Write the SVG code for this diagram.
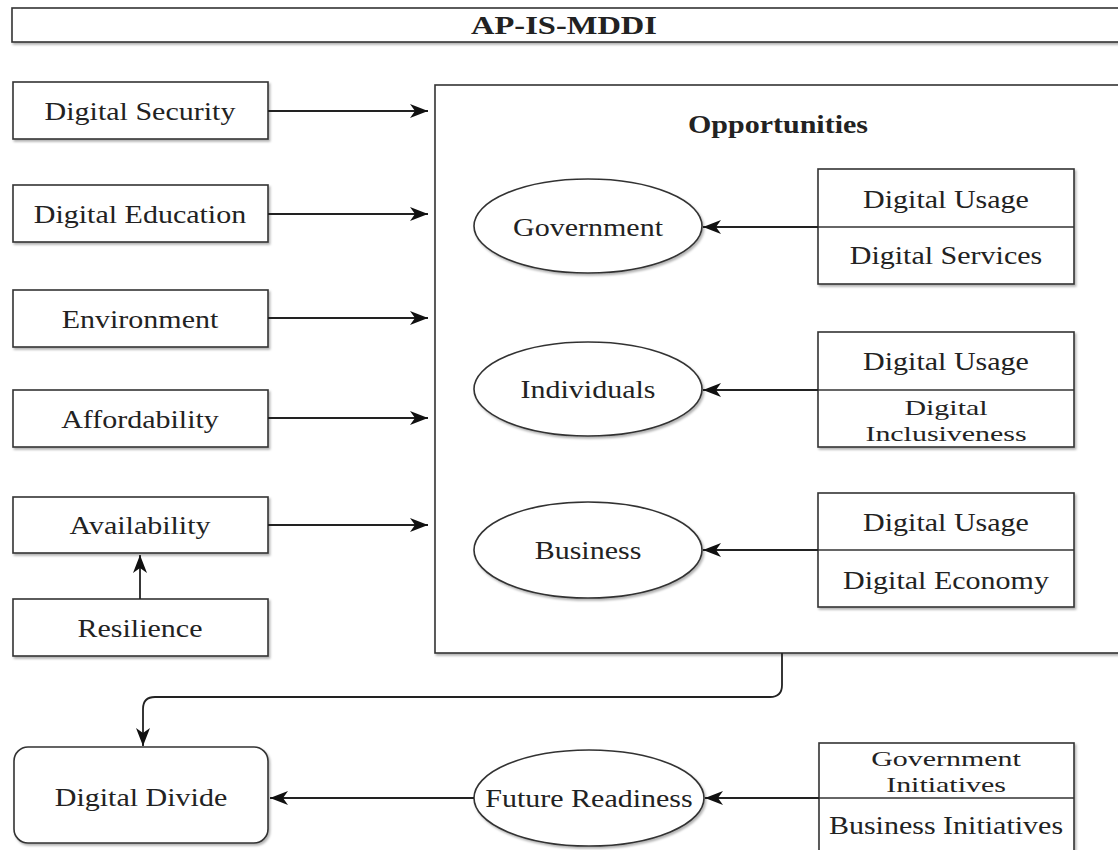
<svg xmlns="http://www.w3.org/2000/svg" width="1118" height="850" viewBox="0 0 1118 850">
  <style>
    .box { fill: #ffffff; stroke: #333333; stroke-width: 1.6; filter: url(#shadow); }
    .div { stroke: #333333; stroke-width: 1.6; fill: none; }
    .edge { fill: none; stroke: #222222; stroke-width: 1.8; }
    .arrow { marker-end: url(#head); }
    .t { font-family: "Liberation Serif", "Times New Roman", serif; font-size: 25px; text-anchor: middle; fill: #222222; }
    .b { font-weight: bold; }
    .s { font-size: 22px; }
  </style>
  <defs>
    <filter id="shadow" x="-5%" y="-10%" width="115%" height="130%">
      <feDropShadow dx="1.5" dy="2" stdDeviation="1.2" flood-color="#000000" flood-opacity="0.3"/>
    </filter>
    <marker id="head" markerUnits="userSpaceOnUse" markerWidth="18" markerHeight="14" refX="18" refY="7" orient="auto">
      <path d="M0,0 L18,7 L0,14 L5,7 Z" fill="#111111"/>
    </marker>
  </defs>

  <rect width="1118" height="850" fill="#ffffff"/>

  <!-- header bar -->
  <g id="title">
    <rect class="box" x="12" y="8" width="1115" height="34"/>
    <text class="t b" font-size="20" transform="translate(564 34) scale(1.3 1)">AP-IS-MDDI</text>
  </g>

  <!-- opportunities container -->
  <g id="opportunities">
    <rect class="box" x="435" y="85" width="700" height="568"/>
    <text class="t b" transform="translate(778 133) scale(1.2 1)">Opportunities</text>
  </g>

  <!-- left-hand factors -->
  <g id="digital-security">
    <rect class="box" x="13" y="82" width="255" height="57"/>
    <text class="t" transform="translate(140 120) scale(1.2 1)">Digital Security</text>
  </g>
  <g id="digital-education">
    <rect class="box" x="13" y="185" width="255" height="57"/>
    <text class="t" transform="translate(140 223) scale(1.2 1)">Digital Education</text>
  </g>
  <g id="environment">
    <rect class="box" x="13" y="290" width="255" height="57"/>
    <text class="t" transform="translate(140 328) scale(1.2 1)">Environment</text>
  </g>
  <g id="affordability">
    <rect class="box" x="13" y="390" width="255" height="57"/>
    <text class="t" transform="translate(140 428) scale(1.2 1)">Affordability</text>
  </g>
  <g id="availability">
    <rect class="box" x="13" y="497" width="255" height="56"/>
    <text class="t" transform="translate(140 534) scale(1.2 1)">Availability</text>
  </g>
  <g id="resilience">
    <rect class="box" x="13" y="599" width="255" height="57"/>
    <text class="t" transform="translate(140 637) scale(1.2 1)">Resilience</text>
  </g>

  <!-- stakeholder ellipses -->
  <g id="government">
    <ellipse class="box" cx="588" cy="226" rx="114" ry="47"/>
    <text class="t" transform="translate(588 236) scale(1.2 1)">Government</text>
  </g>
  <g id="individuals">
    <ellipse class="box" cx="588" cy="389" rx="114" ry="47"/>
    <text class="t" transform="translate(588 398) scale(1.2 1)">Individuals</text>
  </g>
  <g id="business">
    <ellipse class="box" cx="588" cy="550" rx="114" ry="48"/>
    <text class="t" transform="translate(588 559) scale(1.2 1)">Business</text>
  </g>

  <!-- split boxes feeding the ellipses -->
  <g id="government-drivers">
    <rect class="box" x="818" y="169" width="256" height="115"/>
    <line class="div" x1="818" y1="227" x2="1074" y2="227"/>
    <text class="t" transform="translate(946 208) scale(1.2 1)">Digital Usage</text>
    <text class="t" transform="translate(946 264) scale(1.2 1)">Digital Services</text>
  </g>
  <g id="individuals-drivers">
    <rect class="box" x="818" y="332" width="256" height="115"/>
    <line class="div" x1="818" y1="390" x2="1074" y2="390"/>
    <text class="t" transform="translate(946 370) scale(1.2 1)">Digital Usage</text>
    <text class="t s" transform="translate(946 415) scale(1.36 1)">Digital</text>
    <text class="t s" transform="translate(946 441) scale(1.36 1)">Inclusiveness</text>
  </g>
  <g id="business-drivers">
    <rect class="box" x="818" y="493" width="256" height="114"/>
    <line class="div" x1="818" y1="550" x2="1074" y2="550"/>
    <text class="t" transform="translate(946 531) scale(1.2 1)">Digital Usage</text>
    <text class="t" transform="translate(946 589) scale(1.2 1)">Digital Economy</text>
  </g>

  <!-- bottom row -->
  <g id="digital-divide">
    <rect class="box" x="14" y="747" width="254" height="96" rx="14" ry="14"/>
    <text class="t" transform="translate(141 806) scale(1.2 1)">Digital Divide</text>
  </g>
  <g id="future-readiness">
    <ellipse class="box" cx="589" cy="798" rx="115" ry="48"/>
    <text class="t" transform="translate(589 807) scale(1.2 1)">Future Readiness</text>
  </g>
  <g id="initiatives">
    <rect class="box" x="819" y="743" width="255" height="120"/>
    <line class="div" x1="819" y1="798" x2="1074" y2="798"/>
    <text class="t s" transform="translate(946 766) scale(1.36 1)">Government</text>
    <text class="t s" transform="translate(946 792) scale(1.36 1)">Initiatives</text>
    <text class="t" transform="translate(946 834) scale(1.2 1)">Business Initiatives</text>
  </g>

  <!-- connectors -->
  <g id="connectors">
    <path class="edge arrow" d="M268 111 H428"/>
    <path class="edge arrow" d="M268 214 H428"/>
    <path class="edge arrow" d="M268 318 H428"/>
    <path class="edge arrow" d="M268 418 H428"/>
    <path class="edge arrow" d="M268 525 H428"/>
    <path class="edge arrow" d="M140 599 V555"/>
    <path class="edge arrow" d="M818 227 H703"/>
    <path class="edge arrow" d="M818 390 H703"/>
    <path class="edge arrow" d="M818 550 H703"/>
    <path class="edge arrow" d="M782 653 V685 Q782 697 770 697 H155 Q143 697 143 709 V746"/>
    <path class="edge arrow" d="M819 798 H705"/>
    <path class="edge arrow" d="M474 798 H270"/>
  </g>
</svg>
